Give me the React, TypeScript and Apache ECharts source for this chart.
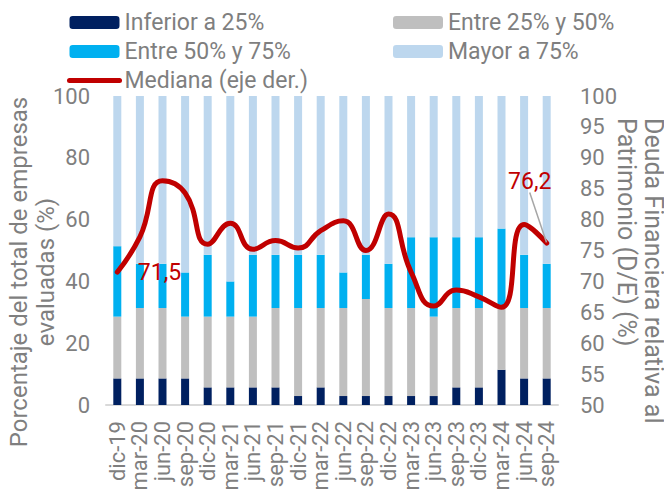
import React, { useEffect, useRef } from "react";
import * as echarts from "echarts";

const categories = ["dic-19","mar-20","jun-20","sep-20","dic-20","mar-21","jun-21","sep-21","dic-21","mar-22","jun-22","sep-22","dic-22","mar-23","jun-23","sep-23","dic-23","mar-24","jun-24","sep-24"];
const inferior25 = [8.6,8.6,8.6,8.6,5.7,5.7,5.7,5.7,2.9,5.7,2.9,2.9,2.9,2.9,2.9,5.7,5.7,11.4,8.6,8.6];
const entre25y50 = [20.0,22.8,22.8,20.0,22.9,22.9,22.9,25.7,28.5,25.7,28.5,31.4,28.5,28.5,25.7,25.7,25.7,20.0,22.8,22.8];
const entre50y75 = [22.8,14.3,14.3,14.3,20.0,11.4,20.0,17.2,17.2,17.2,11.5,14.3,14.3,22.9,25.7,22.9,22.9,25.7,17.2,14.3];
const mayor75 = [48.6,54.3,54.3,57.1,51.4,60.0,51.4,51.4,51.4,51.4,57.1,51.4,54.3,45.7,45.7,45.7,45.7,42.9,51.4,54.3];
const mediana = [71.5,77.2,86.3,84.3,76.0,79.4,75.2,76.6,75.4,78.2,79.8,75.0,80.9,71.5,66.0,68.6,67.5,65.8,79.2,76.2];
const labeledPoints = [0, 19];
const leftTitle = "Porcentaje del total de empresas\nevaluadas (%)";
const rightTitle = "Deuda Financiera relativa al\nPatrimonio (D/E) (%)";

const GRAY_TEXT = "#7f7f7f";
const FONT = "Roboto";

export default function App() {
  const ref = useRef<HTMLDivElement>(null);
  useEffect(() => {
    if (!ref.current) return;
    const chart = echarts.init(ref.current, null, { renderer: "svg" });
    const barCommon = { type: "bar", stack: "total", barWidth: 8, yAxisIndex: 0 };
    const lineData = mediana.map((v, i) => {
      if (i === 0) {
        return { value: v, label: { show: true, position: "right", distance: 20 } };
      }
      if (i === 19) {
        return {
          value: v,
          label: { show: true, position: "top", distance: 5 },
          labelLine: { show: true, lineStyle: { color: "#a6a6a6", width: 1.5 } },
        };
      }
      return v;
    });
    const legendText = { color: GRAY_TEXT, fontSize: 23, lineHeight: 23, fontFamily: FONT };
    const titleStyle = { fill: GRAY_TEXT, lineHeight: 27, fontFamily: FONT, verticalAlign: "middle" };
    chart.setOption({
      animation: false,
      textStyle: { fontFamily: FONT },
      grid: { left: 106, right: 114, top: 96, bottom: 93 },
      graphic: [
        {
          type: "text", x: 32, y: 272, rotation: Math.PI / 2,
          style: { ...titleStyle, fontSize: 24, text: leftTitle, align: "center" },
        },
        {
          type: "text", x: 640, y: 118, rotation: -Math.PI / 2,
          style: { ...titleStyle, fontSize: 25, text: rightTitle, align: "left" },
        },
      ],
      legend: [
        {
          left: 62, top: 6, orient: "vertical", itemWidth: 50, itemHeight: 13, itemGap: 6,
          textStyle: legendText,
          data: [
            "Inferior a 25%",
            "Entre 50% y 75%",
            { name: "Mediana (eje der.)", itemStyle: { opacity: 0 }, lineStyle: { width: 5, cap: "round" } },
          ],
        },
        {
          left: 388, top: 6, orient: "vertical", itemWidth: 50, itemHeight: 13, itemGap: 6,
          textStyle: legendText,
          data: ["Entre 25% y 50%", "Mayor a 75%"],
        },
      ],
      xAxis: {
        type: "category",
        data: categories,
        axisLine: { lineStyle: { color: "#d9d9d9", width: 2 } },
        axisTick: { show: false },
        axisLabel: { rotate: 90, interval: 0, color: GRAY_TEXT, fontSize: 22, margin: 16, fontFamily: FONT },
      },
      yAxis: [
        {
          type: "value", min: 0, max: 100, interval: 20,
          splitLine: { show: false }, axisLine: { show: false }, axisTick: { show: false },
          axisLabel: { color: GRAY_TEXT, fontSize: 22, margin: 16, fontFamily: FONT },
        },
        {
          type: "value", min: 50, max: 100, interval: 5,
          splitLine: { show: false }, axisLine: { show: false }, axisTick: { show: false },
          axisLabel: { color: GRAY_TEXT, fontSize: 22, margin: 22, fontFamily: FONT },
        },
      ],
      series: [
        { ...barCommon, name: "Inferior a 25%", data: inferior25, itemStyle: { color: "#002060" } },
        { ...barCommon, name: "Entre 25% y 50%", data: entre25y50, itemStyle: { color: "#bfbfbf" } },
        { ...barCommon, name: "Entre 50% y 75%", data: entre50y75, itemStyle: { color: "#00b0f0" } },
        { ...barCommon, name: "Mayor a 75%", data: mayor75, itemStyle: { color: "#bdd7ee" } },
        {
          type: "line", name: "Mediana (eje der.)", yAxisIndex: 1, data: lineData,
          smooth: 0.5, symbol: "circle", symbolSize: 1, showSymbol: true,
          itemStyle: { color: "#c00000" },
          lineStyle: { color: "#c00000", width: 5, cap: "round", join: "round" },
          label: {
            show: false, color: "#c00000", fontSize: 23, fontFamily: FONT,
            formatter: (p: any) => (labeledPoints.includes(p.dataIndex) ? String(p.value).replace(".", ",") : ""),
          },
          labelLayout: (p: any) => (p.dataIndex === 19 ? { dx: -17, dy: -45 } : {}),
          z: 5,
        },
      ],
    });
    return () => chart.dispose();
  }, []);
  return <div ref={ref} style={{ width: 672, height: 498, margin: -8 }} />;
}
